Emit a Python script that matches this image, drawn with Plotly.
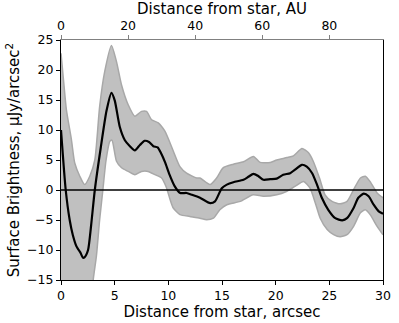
import plotly.graph_objects as go

AU_PER_ARCSEC = 3.2

# mean profile
x_mean = [0, 0.44, 0.81, 1.1, 1.44, 1.65, 1.8, 2.05, 2.2, 2.52, 2.8, 3.15, 3.7, 4.24, 4.7, 5.01,
          5.48, 5.95, 6.42, 6.88, 7.35, 7.8, 8.2, 8.6, 9.0, 9.3, 9.7, 10.1, 10.6, 11.1, 11.7, 12.2,
          12.95, 13.9, 14.35, 14.98, 15.45, 16.06, 17.0, 17.46, 17.93, 18.4, 18.86, 19.5, 20.1,
          20.7, 21.35, 21.8, 22.45, 22.9, 23.4, 23.85, 24.3, 24.9, 25.55, 26.2, 26.65, 27.26,
          27.7, 28.2, 28.66, 29.13, 29.6, 30]
y_mean = [10, 0, -5, -7.5, -9.4, -10.0, -10.4, -11.3, -11.2, -10, -6, 0, 7.0, 13.2, 16.2, 14.9,
          10.5, 8.3, 7.3, 6.6, 7.5, 8.2, 8.0, 7.3, 7.1, 6.2, 4.6, 2.6, 0.6, -0.5, -0.5, -0.8,
          -1.3, -2.2, -1.9, 0.3, 0.9, 1.3, 1.7, 2.2, 2.7, 2.3, 1.7, 1.8, 1.9,
          2.55, 2.8, 3.4, 4.2, 3.9, 2.8, 0.9, -1.3, -3.3, -4.7, -5.05, -4.7, -3.0,
          -1.3, -0.6, -1.05, -2.45, -3.55, -3.95]

# upper edge of uncertainty band
x_upper = [0, 0.25, 0.5, 0.97, 1.28, 1.75, 2.2, 2.68, 3.15, 3.6, 4.08, 4.7, 5.17, 5.64, 6.26,
           6.88, 7.5, 7.97, 8.44, 9.06, 9.68, 10.46, 11.08, 11.7, 12.64, 12.95, 13.88, 14.5,
           15.1, 16.06, 17.0, 17.93, 18.55, 19.5, 20.1, 21.05, 21.66, 22.45, 23.06, 23.5, 24.1,
           24.6, 25.25, 26.0, 26.65, 27.26, 27.9, 28.35, 28.8, 29.45, 30]
y_upper = [22.8, 18, 13.4, 8.4, 4.5, 2.3, 0.9, 2.3, 5, 13.9, 19.8, 24.1, 21.4, 17.5, 14.2,
           12.3, 13.1, 13.1, 11.7, 11.2, 9.8, 6.5, 3.9, 2.8, 2.0, 2.0, 0.9, 2.0,
           3.7, 4.3, 4.7, 5.6, 4.6, 4.6, 5.0, 5.4, 5.7, 6.9, 6.2, 4.8, 1.9,
           -0.8, -1.9, -2.3, -1.9, 0.05, 2.0, 2.3, 1.4, -0.5, -1.3]

# lower edge of uncertainty band
x_lower = [0, 0.3, 1.0, 2.0, 2.6, 3.0, 3.3, 3.6, 3.9, 4.2, 4.55, 4.75, 5.17, 5.64, 6.26, 6.88,
           7.5, 8.12, 8.75, 9.37, 9.8, 10.2, 10.46, 11.08, 12.0, 12.95, 13.57, 14.2, 14.8,
           15.45, 16.7, 17.9, 18.86, 20.1, 21.0, 21.8, 22.6, 23.2, 23.7, 24.15, 24.8, 25.4,
           26.0, 26.65, 27.26, 27.9, 28.35, 28.8, 29.45, 30]
y_lower = [-16, -22, -30, -32, -25, -15, -11, -5, 0, 5, 8.1, 8.3, 4.8, 3.7, 3.1, 2.55,
           3.1, 3.1, 2.55, 2.0, 0.5, -1.8, -3.0, -4.1, -4.4, -4.7, -4.95, -4.7, -3.3,
           -2.45, -1.9, -0.8, -1.05, -0.8, -0.25, 0.6, 1.4, 0.3, -2.2, -4.7, -6.6, -7.45,
           -7.8, -7.45, -6.05, -3.8, -3.3, -4.1, -6.05, -7.45]

x_ticks = [0, 5, 10, 15, 20, 25, 30]
au_ticks = [0, 20, 40, 60, 80]
y_ticks = [-15, -10, -5, 0, 5, 10, 15, 20, 25]

font = dict(family="DejaVu Sans", size=12.5, color="black")
band_edge = "#a8a8a8"

fig = go.Figure()
fig.add_trace(go.Scatter(x=x_lower, y=y_lower, mode="lines",
                         line=dict(color=band_edge, width=1.5, shape="spline", smoothing=0.6),
                         hoverinfo="skip"))
fig.add_trace(go.Scatter(x=x_upper, y=y_upper, mode="lines", fill="tonexty",
                         fillcolor="#c0c0c0",
                         line=dict(color=band_edge, width=1.5, shape="spline", smoothing=0.6),
                         hoverinfo="skip"))
fig.add_trace(go.Scatter(x=x_mean, y=y_mean, mode="lines",
                         line=dict(color="black", width=2.2, shape="spline", smoothing=0.6)))
# invisible trace to carry the AU axis on top
fig.add_trace(go.Scatter(x=[v * AU_PER_ARCSEC for v in x_mean], y=y_mean, xaxis="x2",
                         mode="lines", line=dict(width=0), opacity=0, hoverinfo="skip"))

fig.add_shape(type="line", xref="paper", yref="y", x0=0, x1=1, y0=0, y1=0,
              line=dict(color="black", width=1.6), layer="above")

fig.update_layout(
    width=399, height=323,
    showlegend=False,
    paper_bgcolor="white", plot_bgcolor="white",
    font=font,
    margin=dict(l=61, r=16, t=40, b=43, autoexpand=False),
    xaxis=dict(range=[0, 30], tickvals=x_ticks, showgrid=False, zeroline=False,
               showline=True, linecolor="black", linewidth=1.2, automargin=False,
               ticks="outside", ticklen=4, tickcolor="black",
               title=dict(text="Distance from star, arcsec", standoff=3)),
    xaxis2=dict(range=[0, 30 * AU_PER_ARCSEC], tickvals=au_ticks, overlaying="x", side="top",
                showgrid=False, zeroline=False, showline=True, linecolor="#808080",
                linewidth=1.2, ticks="outside", ticklen=4, tickcolor="#808080",
                automargin=False,
                title=dict(text="Distance from star, AU", standoff=3)),
    yaxis=dict(range=[-15, 25], tickvals=y_ticks, showgrid=False, zeroline=False,
               showline=True, mirror=True, linecolor="black", linewidth=1.2,
               ticks="outside", ticklen=4, tickcolor="black", automargin=False,
               title=dict(text="Surface Brightness, μJy/arcsec<sup>2</sup>", standoff=3)),
)

# page body has a default 8px margin; drop it so the figure sits at the corner
fig.write_html("out.html", config={"displayModeBar": False},
               post_script="document.body.style.margin='0';")
